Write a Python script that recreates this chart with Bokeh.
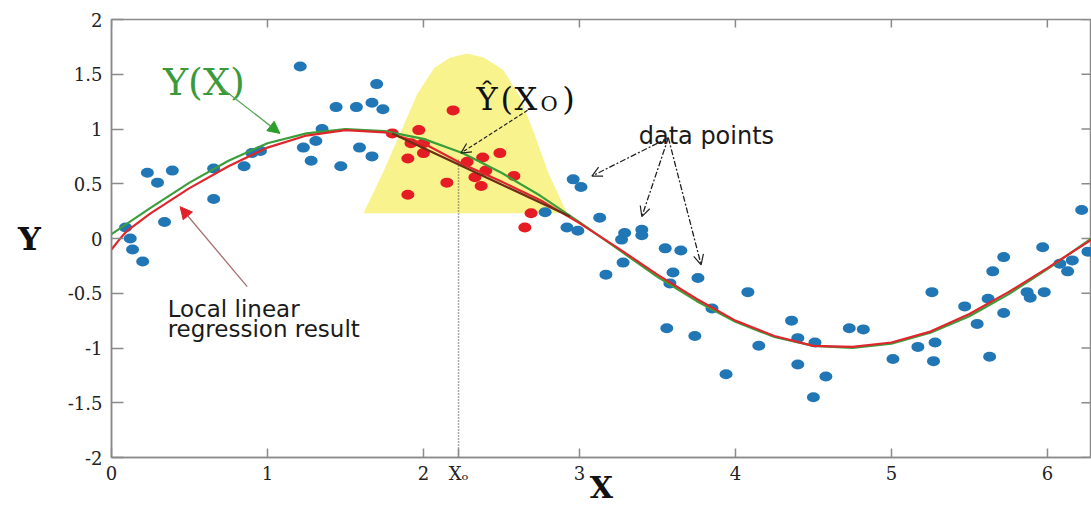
import math
from bokeh.plotting import figure
from bokeh.models import FixedTicker, Label, Arrow, NormalHead, OpenHead, Range1d
from bokeh.embed import file_html
from bokeh.resources import INLINE

# ---- data ----
x_ticks = [0, 1, 2, 3, 4, 5, 6]
x_tick_labels = ["0", "1", "2", "3", "4", "5", "6"]
y_ticks = [-2, -1.5, -1, -0.5, 0, 0.5, 1, 1.5, 2]
y_tick_labels = ["-2", "-1.5", "-1", "-0.5", "0", "0.5", "1", "1.5", "2"]
x0 = 2.225
x0_label = "Xₒ"
x0_top = 0.72

blue_x = [0.09, 0.12, 0.135, 0.20, 0.23, 0.295, 0.39, 0.34, 0.655, 0.655, 0.85, 0.90, 0.955,
          1.21, 1.23, 1.28, 1.31, 1.35, 1.44, 1.47, 1.57, 1.59, 1.67, 1.67, 1.70, 1.74,
          2.78, 2.96, 3.01, 2.92, 2.99, 3.13, 3.17, 3.27, 3.28, 3.29, 3.40, 3.40, 3.55, 3.65,
          3.56, 3.58, 3.60, 3.74, 3.76, 3.85, 3.94, 4.08, 4.15, 4.36, 4.40, 4.40, 4.50, 4.51,
          4.58, 4.73, 4.82, 5.01, 5.17, 5.26, 5.27, 5.28, 5.47, 5.55, 5.62, 5.63, 5.65, 5.72,
          5.72, 5.87, 5.89, 5.97, 5.98, 6.08, 6.13, 6.16, 6.22, 6.26]
blue_y = [0.10, 0.00, -0.10, -0.21, 0.60, 0.51, 0.62, 0.15, 0.64, 0.36, 0.66, 0.78, 0.80,
          1.57, 0.83, 0.71, 0.89, 1.00, 1.20, 0.66, 1.20, 0.83, 1.24, 0.75, 1.41, 1.18,
          0.24, 0.54, 0.47, 0.10, 0.07, 0.19, -0.33, -0.01, -0.22, 0.05, 0.08, 0.03, -0.09, -0.11,
          -0.82, -0.41, -0.31, -0.89, -0.36, -0.64, -1.24, -0.49, -0.98, -0.75, -0.91, -1.15, -1.45, -0.95,
          -1.26, -0.82, -0.83, -1.10, -0.99, -0.49, -1.12, -0.95, -0.62, -0.78, -0.55, -1.08, -0.30, -0.17,
          -0.68, -0.49, -0.54, -0.08, -0.49, -0.23, -0.30, -0.20, 0.26, -0.12]

red_x = [1.80, 1.90, 1.90, 1.92, 1.97, 2.00, 2.00, 2.15, 2.19, 2.28, 2.33, 2.37, 2.38,
         2.40, 2.49, 2.58, 2.65, 2.69]
red_y = [0.96, 0.40, 0.73, 0.87, 0.99, 0.87, 0.78, 0.51, 1.17, 0.70, 0.56, 0.48, 0.74,
         0.62, 0.78, 0.57, 0.10, 0.23]

# true function Y(X) (green)
true_x = [0, 0.25, 0.5, 0.75, 1.0, 1.25, 1.5, 1.75, 2.0, 2.25, 2.5, 2.75, 3.0, 3.25, 3.5,
          3.75, 4.0, 4.25, 4.5, 4.75, 5.0, 5.25, 5.5, 5.75, 6.0, 6.283]
true_y = [0.04, 0.28, 0.51, 0.71, 0.87, 0.96, 1.00, 0.98, 0.91, 0.78, 0.60, 0.39, 0.15, -0.10, -0.35,
          -0.57, -0.76, -0.90, -0.98, -1.00, -0.96, -0.86, -0.71, -0.51, -0.28, 0.0]

# local linear regression result (red)
fit_x = [0, 0.05, 0.1, 0.25, 0.5, 0.75, 1.0, 1.25, 1.5, 1.75, 2.0, 2.25, 2.5, 2.75, 3.0, 3.25, 3.5,
         3.75, 4.0, 4.25, 4.5, 4.75, 5.0, 5.25, 5.5, 5.75, 6.0, 6.283]
fit_y = [-0.10, -0.01, 0.07, 0.23, 0.46, 0.66, 0.83, 0.94, 0.99, 0.97, 0.87, 0.68, 0.52, 0.35, 0.14, -0.09, -0.33,
         -0.55, -0.75, -0.89, -0.98, -0.99, -0.95, -0.85, -0.69, -0.49, -0.27, -0.01]

# local linear fit around X0 (dark segment)
local_x = [1.80, 2.94]
local_y = [0.96, 0.20]

# kernel weights (yellow)
kernel_x = [1.615, 1.74, 1.85, 1.96, 2.07, 2.17, 2.28, 2.39, 2.51, 2.62, 2.71, 2.80, 2.92]
kernel_y = [0.23, 0.60, 0.96, 1.32, 1.56, 1.65, 1.69, 1.65, 1.54, 1.29, 0.96, 0.60, 0.23]

X_MIN, X_MAX, Y_MIN, Y_MAX = 0, 6.283, -2, 2

# ---- figure ----
p = figure(width=1091, height=507, x_range=Range1d(X_MIN, X_MAX), y_range=Range1d(Y_MIN, Y_MAX),
           output_backend="svg", toolbar_location=None,
           min_border_left=111, min_border_right=0, min_border_top=19, min_border_bottom=49)
p.grid.visible = False
AX = "#8a8a8a"
p.outline_line_color = AX
p.outline_line_width = 1.5
p.background_fill_color = "white"

TICK_FONT = "DejaVu Serif"

def style_axis(ax, ticks, overrides, tick_in):
    ax.ticker = FixedTicker(ticks=ticks)
    ax.major_label_overrides = overrides
    ax.axis_line_color = AX
    ax.axis_line_width = 1.5
    ax.major_tick_line_color = AX
    ax.major_tick_line_width = 1.5
    ax.major_tick_in = tick_in
    ax.major_tick_out = 0
    ax.minor_tick_in = 0
    ax.minor_tick_out = 0
    ax.major_label_text_font = TICK_FONT
    ax.major_label_text_color = "#222222"
    ax.major_label_text_font_size = "18px"

xo = {t: l for t, l in zip(x_ticks, x_tick_labels)}
xo[x0] = x0_label
style_axis(p.xaxis[0], x_ticks + [x0], xo, 9)
p.xaxis[0].major_label_standoff = 5
p.xaxis[0].axis_label = "X"
p.xaxis[0].axis_label_text_font = "DejaVu Serif"
p.xaxis[0].axis_label_text_font_style = "bold"
p.xaxis[0].axis_label_text_font_size = "30px"
p.xaxis[0].axis_label_text_color = "#111111"
p.xaxis[0].axis_label_standoff = -17

style_axis(p.yaxis[0], y_ticks, {t: l for t, l in zip(y_ticks, y_tick_labels)}, 12)
p.yaxis[0].major_label_standoff = 9
p.yaxis[0].axis_label = "Y"
p.yaxis[0].axis_label_orientation = "horizontal"
p.yaxis[0].axis_label_text_font = "DejaVu Serif"
p.yaxis[0].axis_label_text_font_style = "bold"
p.yaxis[0].axis_label_text_font_size = "32px"
p.yaxis[0].axis_label_text_color = "#111111"
p.yaxis[0].axis_label_standoff = 24

# inward ticks on the top and right frame edges
p.scatter(x=x_ticks, y=[Y_MAX] * len(x_ticks), marker="dash", size=16, angle=math.pi / 2,
          line_color=AX, line_width=1.5)
p.scatter(x=[X_MAX] * len(y_ticks), y=y_ticks, marker="dash", size=20,
          line_color=AX, line_width=1.5)

# kernel weight region
p.patch(kernel_x, kernel_y, fill_color="#f8f38c", line_color=None)

# data points
p.ellipse(x=blue_x, y=blue_y, width=13, height=10, width_units="screen", height_units="screen",
          fill_color="#2176b5", line_color=None)
p.ellipse(x=red_x, y=red_y, width=13, height=10, width_units="screen", height_units="screen",
          fill_color="#e51c23", line_color=None)

# curves
p.line(true_x, true_y, line_color="#3a9e3a", line_width=2.2)
p.line(fit_x, fit_y, line_color="#e0262c", line_width=2.2)
p.line(local_x, local_y, line_color="#6e2e18", line_width=2.2)

# X0 dotted line
p.line([x0, x0], [Y_MIN, x0_top], line_color="#555555", line_width=1.5, line_dash="1 2")

# annotations
def lab(x, y, text, size, font="DejaVu Serif", color="#111111", style="normal"):
    p.add_layout(Label(x=x, y=y, text=text, text_font=font, text_font_size=size,
                       text_color=color, text_baseline="alphabetic", text_font_style=style))

lab(0.33, 1.43, "Y(X)", "38px", color="#3a9a3a")
lab(2.34, 1.27, "Ŷ", "32px")
lab(2.494, 1.27, "(", "32px")
lab(2.583, 1.27, "X", "32px")
lab(2.75, 1.225, "O", "21px")
lab(2.89, 1.27, ")", "32px")
lab(3.38, 0.94, "data points", "24px", font="DejaVu Sans", color="#1a1a1a")
lab(0.36, -0.64, "Local linear", "23px", font="DejaVu Sans", color="#1a1a1a")
lab(0.36, -0.83, "regression result", "23px", font="DejaVu Sans", color="#1a1a1a")

p.add_layout(Arrow(x_start=0.71, y_start=1.37, x_end=1.08, y_end=0.96,
                   line_color="#5aa55a", line_width=1.3,
                   end=NormalHead(size=12, fill_color="#2e9e2e", line_color="#2e9e2e")))
p.add_layout(Arrow(x_start=0.87, y_start=-0.44, x_end=0.44, y_end=0.29,
                   line_color="#a77070", line_width=1.3,
                   end=NormalHead(size=12, fill_color="#e0202a", line_color="#e0202a")))
p.add_layout(Arrow(x_start=2.70, y_start=1.20, x_end=2.24, y_end=0.78,
                   line_color="#222222", line_width=1.2, line_dash="4 2",
                   end=OpenHead(size=10, line_color="#222222", line_width=1.2)))
for ex, ey in [(3.08, 0.57), (3.40, 0.20), (3.78, -0.24)]:
    p.add_layout(Arrow(x_start=3.57, y_start=0.92, x_end=ex, y_end=ey,
                       line_color="#222222", line_width=1.3, line_dash="6 2 2 2",
                       end=OpenHead(size=10, line_color="#222222", line_width=1.2)))

open("out.html", "w").write(file_html(p, INLINE))
